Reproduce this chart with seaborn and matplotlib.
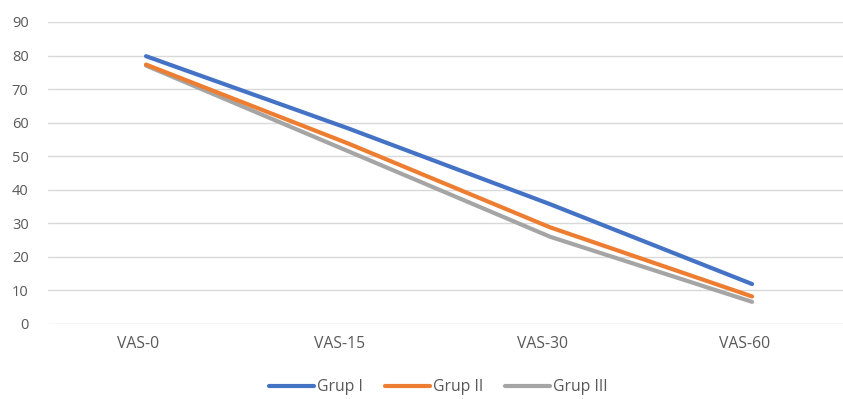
import matplotlib
matplotlib.use("Agg")
import matplotlib.pyplot as plt
import matplotlib.transforms as mtransforms
import seaborn as sns
import pandas as pd

categories = ["VAS-0", "VAS-15", "VAS-30", "VAS-60"]
grup_1 = [79.8, 58.3, 35.7, 11.9]
grup_2 = [77.3, 53.8, 28.8, 8.2]
grup_3 = [77.0, 51.5, 26.0, 6.6]
series_names = ["Grup I", "Grup II", "Grup III"]
y_ticks = [0, 10, 20, 30, 40, 50, 60, 70, 80, 90]

frames = []
for name, vals in zip(series_names, [grup_1, grup_2, grup_3]):
    frames.append(pd.DataFrame({"pos": range(len(categories)), "value": vals, "group": name}))
df = pd.concat(frames, ignore_index=True)

sns.set_theme(style="white")
plt.rcParams["font.family"] = ["Open Sans", "DejaVu Sans"]

fig = plt.figure(figsize=(8.43, 3.99), dpi=100)
ax = fig.add_axes([0.057, 0.188, 0.943, 0.757])

palette = {"Grup I": "#4472C4", "Grup II": "#ED7D31", "Grup III": "#A5A5A5"}
sns.lineplot(data=df, x="pos", y="value", hue="group", hue_order=series_names[::-1],
             palette=palette, linewidth=3.0, ax=ax, legend=False, sort=False)

ax.set_xlim(-0.485, 3.45)
ax.set_ylim(0, 90)
ax.set_yticks(y_ticks)
ax.set_xticks(range(len(categories)))
ax.set_xticklabels(categories)
ax.yaxis.grid(True, color="#D9D9D9", linewidth=1.0)
ax.set_axisbelow(True)
for s in ax.spines.values():
    s.set_visible(False)
ax.tick_params(axis="both", length=0, labelcolor="#595959")
ax.tick_params(axis="y", labelsize=10.5, pad=14)
ax.tick_params(axis="x", labelsize=11.3, pad=9)
ax.set_xlabel("")
ax.set_ylabel("")

# nudge category labels slightly left
shift = mtransforms.ScaledTranslation(-8 / 100, 0, fig.dpi_scale_trans)
for lbl in ax.get_xticklabels():
    lbl.set_transform(lbl.get_transform() + shift)

handles = [plt.Line2D([], [], color=palette[n], linewidth=3.0) for n in series_names]
fig.legend(handles, series_names, loc="center", bbox_to_anchor=(0.52, 0.03),
           ncol=3, frameon=False, fontsize=11.3, handlelength=2.9, handletextpad=0.2,
           columnspacing=1.35, labelcolor="#595959", borderpad=0, borderaxespad=0)

fig.savefig("out.png", dpi=100)
